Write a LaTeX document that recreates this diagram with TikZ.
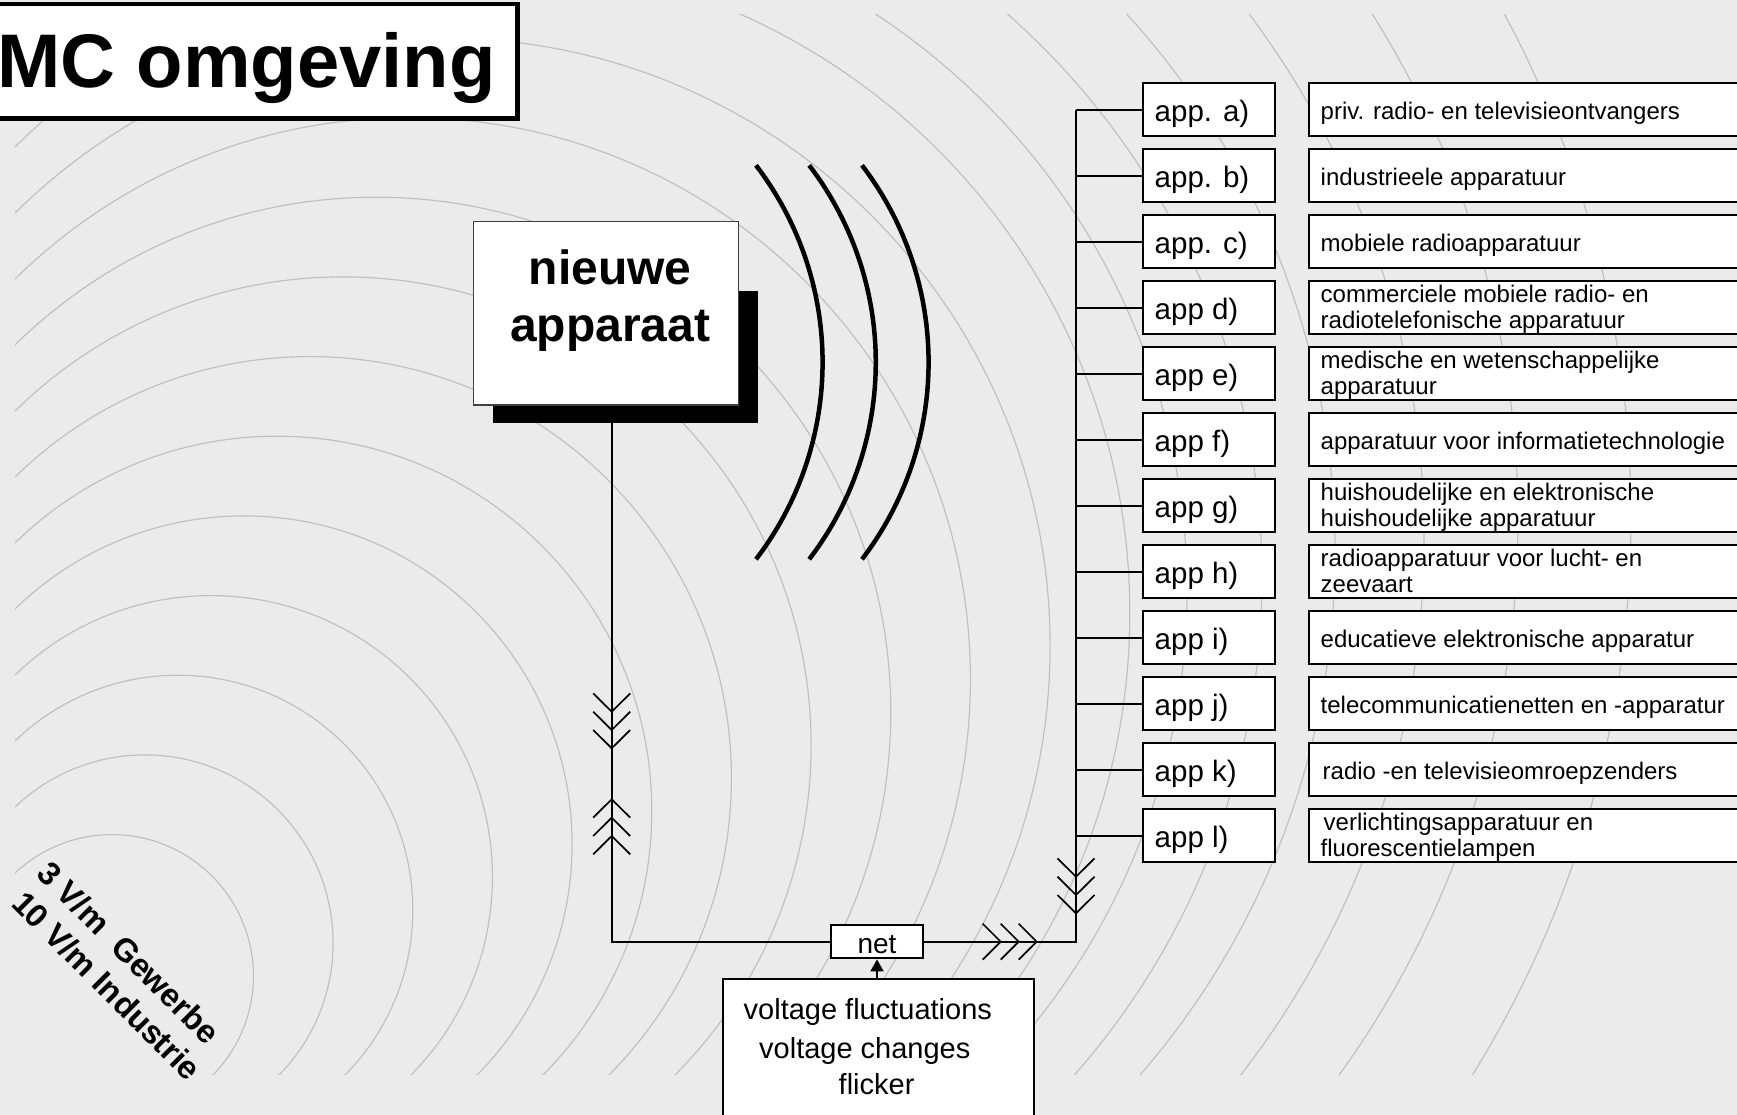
\documentclass[tikz,border=0pt]{standalone}
\usepackage{fontspec}
\setmainfont{Liberation Sans}
\usetikzlibrary{arrows.meta}
\definecolor{bgc}{RGB}{235,235,235}
\definecolor{ringc}{RGB}{192,192,192}
\begin{document}
\begin{tikzpicture}[x=1pt,y=-1pt,
  conn/.style={line width=1.7pt, black},
  chev/.style={line width=1.7pt, black},
  ringline/.style={line width=1.2pt, ringc},
  appbox/.style={draw, line width=2pt, fill=white, minimum width=132pt, minimum height=53pt, inner sep=0pt},
  descbox/.style={draw, line width=2pt, fill=white, minimum width=452pt, minimum height=53pt, inner sep=0pt, anchor=west},
  apptxt/.style={anchor=base west, inner sep=0pt, font=\fontsize{29.5}{34}\selectfont},
  desctxt/.style={anchor=base west, inner sep=0pt, font=\fontsize{24}{28}\selectfont},
  volttxt/.style={anchor=base west, inner sep=0pt, font=\fontsize{29}{33}\selectfont},
  wave/.style={line width=4.5pt, black},
  bigbold/.style={inner sep=0pt, font=\bfseries\fontsize{48}{52}\selectfont},
  rottxt/.style={anchor=base west, rotate=-45, inner sep=0pt, font=\bfseries\fontsize{32.5}{36}\selectfont},
]
\fill[bgc] (0,0) rectangle (1737,1115);
\useasboundingbox (0,0) rectangle (1737,1115);

% rings
\begin{scope}
\clip (15,15) rectangle (1745,1074);
\foreach \cx/\cy/\r in {112/976/141.4,145/943/188.1,178/910/234.8,211/877/281.4,244/844/328.1,277/811/374.8,310/778/421.4,343/745/468.1,376/712/514.8,409/679/561.4,442/646/608.1,475/613/654.8,497/591/690,510/578/752,536/552/799,549/539/875,568/520/950,571/517/1060} {
  \draw[ringline] (\cx,\cy) circle[radius=\r];
}
\end{scope}

% title
\node[draw, line width=4.5pt, fill=white, anchor=north west, minimum width=527pt, minimum height=114.5pt, inner sep=0pt] (tb) at (-12,2) {};
\node[anchor=base east, inner sep=0pt, font=\bfseries\fontsize{76}{80}\selectfont] (tt) at (496,88) {EMC omgeving};

% new device
\node[fill=black, minimum width=265.3pt, minimum height=132pt, anchor=north west, inner sep=0pt] (sh) at (492.7,291) {};
\node[draw=black!75, line width=1.5pt, fill=white, anchor=north west, minimum width=264.8pt, minimum height=183.4pt, inner sep=0pt] (nb) at (472.8,220.6) {};
\node[bigbold, anchor=base] (nt1) at (610.3,284.6) {nieuwe};
\node[bigbold, anchor=base] (nt2) at (610.3,341) {apparaat};

% radiation arcs
\draw[wave] (756,165.3) arc[start angle=-37.35, end angle=37.35, radius=324.7];
\draw[wave] (809.2,165.3) arc[start angle=-37.35, end angle=37.35, radius=324.7];
\draw[wave] (862,165.3) arc[start angle=-37.35, end angle=37.35, radius=324.7];

% app boxes
\foreach \i in {1,...,12} {
  \pgfmathsetmacro\yc{109.8+66*(\i-1)}
  \node[appbox] (a\i) at (1208.7,\yc) {};
  \node[descbox] (d\i) at (1308,\yc) {};
  \coordinate (b\i) at (1076,\yc);
  \draw[conn] (b\i) -- (a\i.west);
}
\foreach \i/\t in {1/{app. a)},2/{app. b)},3/{app. c)},4/{app d)},5/{app e)},6/{app f)},7/{app g)},8/{app h)},9/{app i)},10/{app j)},11/{app k)},12/{app l)}} {
  \pgfmathsetmacro\yb{121.8+66*(\i-1)}
  \node[apptxt] (at\i) at (1154.5,\yb) {\t};
}
% single-line descriptions
\foreach \i/\t in {1/{priv. radio- en televisieontvangers},2/{industrieele apparatuur},3/{mobiele radioapparatuur},6/{apparatuur voor informatietechnologie},9/{educatieve elektronische apparatur},10/{telecommunicatienetten en -apparatur}} {
  \pgfmathsetmacro\yb{119.3+66*(\i-1)}
  \node[desctxt] (dt\i) at (1320.5,\yb) {\t};
}
\node[desctxt] (dt11) at (1322.5,{119.3+66*10}) {radio -en televisieomroepzenders};
% two-line descriptions
\foreach \i/\ta/\tb/\xa in {4/{commerciele mobiele radio- en}/{radiotelefonische apparatuur}/1320.5,5/{medische en wetenschappelijke}/{apparatuur}/1320.5,7/{huishoudelijke en elektronische}/{huishoudelijke apparatuur}/1320.5,8/{radioapparatuur voor lucht- en}/{zeevaart}/1320.5,12/{verlichtingsapparatuur en}/{fluorescentielampen}/1323.5} {
  \pgfmathsetmacro\ya{104.0+66*(\i-1)}
  \pgfmathsetmacro\yb{130.6+66*(\i-1)}
  \node[desctxt] (dta\i) at (\xa,\ya) {\ta};
  \node[desctxt] (dtb\i) at (1320.5,\yb) {\tb};
}

% net and mains
\node[draw, fill=white, line width=2pt, minimum width=92.6pt, minimum height=33.3pt, inner sep=0pt] (net) at (877,941.7) {};
\node[anchor=base, inner sep=0pt, font=\fontsize{28}{32}\selectfont] (nett) at (877,953.3) {net};
\coordinate (s0) at (611.7,423);
\coordinate (s1) at (611.7,941.7);
\coordinate (s2) at (1076,941.7);
\draw[conn] (s0) -- (s1) -- (net.west);
\draw[conn] (net.east) -- (s2) -- (b1);

% voltage box
\node[draw, fill=white, line width=2pt, anchor=north west, minimum width=311pt, minimum height=160pt, inner sep=0pt] (vb) at (721.7,978.3) {};
\node[volttxt] (v1) at (743.5,1019.5) {voltage fluctuations};
\node[volttxt] (v2) at (759,1058) {voltage changes};
\node[volttxt] (v3) at (838.5,1094.5) {flicker};
\draw[conn, -{Triangle[length=12pt,width=13pt]}] (vb.north -| net.south) -- (net.south);

% chevrons
\foreach \ty in {711.7,730,748.3} {
  \draw[chev] ({611.7-18.5},{\ty-18.3}) -- (611.7,\ty) -- ({611.7+18.5},{\ty-18.3});
}
\foreach \ty in {799.3,817.7,836} {
  \draw[chev] ({611.7-18.5},{\ty+18.3}) -- (611.7,\ty) -- ({611.7+18.5},{\ty+18.3});
}
\foreach \ty in {876.7,895,913.3} {
  \draw[chev] ({1076-18.5},{\ty-18.3}) -- (1076,\ty) -- ({1076+18.5},{\ty-18.3});
}
\foreach \tx in {1000.7,1018.7,1036.7} {
  \draw[chev] ({\tx-18},{941.7-18}) -- (\tx,941.7) -- ({\tx-18},{941.7+18});
}

% field strength labels
\node[rottxt] (g1) at (35,875) {3 V/m\ \ Gewerbe};
\node[rottxt] (g2) at (10,905) {10 V/m Industrie};
\end{tikzpicture}
\end{document}
